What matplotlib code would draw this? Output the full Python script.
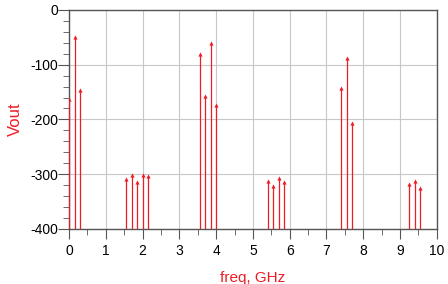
import matplotlib.pyplot as plt
import numpy as np

plt.rcParams['font.family'] = ['Liberation Sans', 'DejaVu Sans']
plt.rcParams['axes.unicode_minus'] = False

freq = [0.0, 0.15, 0.3,
        1.55, 1.7, 1.85, 2.0, 2.15,
        3.55, 3.7, 3.85, 4.0,
        5.4, 5.55, 5.7, 5.85,
        7.4, 7.55, 7.7,
        9.25, 9.4, 9.55]
vout = [-162, -49, -147,
        -309, -302, -315, -302, -304,
        -80, -157, -60, -174,
        -313, -321, -307, -314,
        -142, -88, -206,
        -318, -313, -326]

fig = plt.figure(figsize=(4.48, 2.84), dpi=100)
ax = fig.add_axes([0.154, 0.194, 0.821, 0.771])

red = '#ee1c25'
ax.vlines(freq, -400, vout, color=red, lw=0.9, zorder=3)
ax.plot(freq, vout, '^', color=red, ms=3, mew=0, zorder=4)

ax.set_xlim(0, 10)
ax.set_ylim(-400, 0)
ax.set_xticks(np.arange(0, 11, 1))
ax.set_xticks(np.arange(0, 10.01, 0.5), minor=True)
ax.set_yticks(np.arange(-400, 1, 100))
ax.set_yticks(np.arange(-400, 1, 20), minor=True)
ax.grid(True, which='major', color='#c8c8c8', lw=0.8)
ax.set_axisbelow(True)

for s in ax.spines.values():
    s.set_color('#555555')
    s.set_linewidth(1.0)
ax.tick_params(which='major', length=8, color='#555555', labelsize=10)
ax.tick_params(which='minor', length=4, color='#555555')
ax.tick_params(axis='x', which='major', length=7, pad=4)
ax.tick_params(axis='y', which='major', pad=0)

ax.set_xlabel('freq, GHz', color=red, fontsize=11, labelpad=9)
ax.set_ylabel('Vout', color=red, fontsize=12, labelpad=5)

fig.savefig('out.png', dpi=100)
